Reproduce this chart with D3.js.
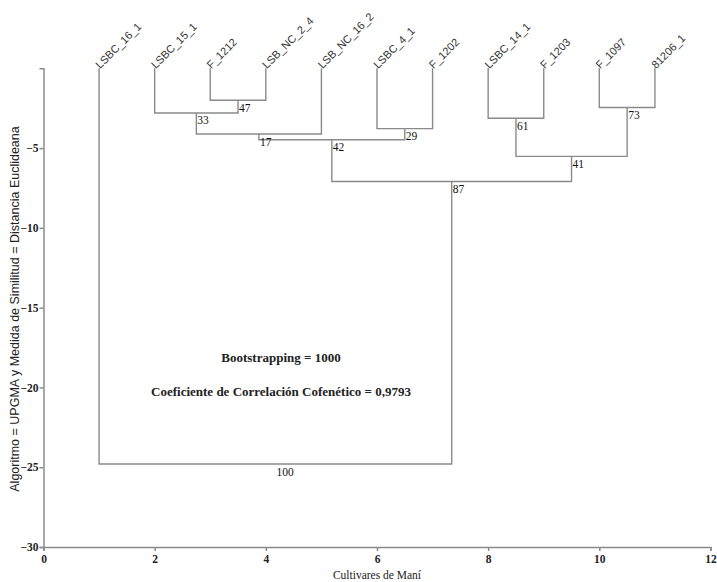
<!DOCTYPE html>
<html>
<head>
<meta charset="utf-8">
<script src="https://cdn.jsdelivr.net/npm/d3@7"></script>
<style>
  body { margin: 0; background: #fff; }
</style>
</head>
<body>
<script>
// hojas del dendrograma (posicion x = indice + 1)
const leaves = ["LSBC_16_1", "LSBC_15_1", "F_1212", "LSB_NC_2_4", "LSB_NC_16_2",
                "LSBC_4_1", "F_1202", "LSBC_14_1", "F_1203", "F_1097", "81206_1"];

// uniones: ids 0-10 son hojas, 11+ son nodos
const mergeLeft   = [2, 1, 12, 5, 13, 7, 9, 16, 15, 0];
const mergeRight  = [3, 11, 4, 6, 14, 8, 10, 17, 18, 19];
const mergeHeight = [-2.0, -2.8, -4.12, -3.78, -4.48, -3.13, -2.46, -5.52, -7.09, -24.8];
const bootstrap   = [47, 33, 17, 29, 42, 61, 73, 41, 87, 100];

const xTicks = [0, 2, 4, 6, 8, 10, 12];
const yTicks = [-30, -25, -20, -15, -10, -5];

const notes = ["Bootstrapping = 1000", "Coeficiente de Correlación Cofenético = 0,9793"];

const W = 717, H = 582;
const svg = d3.select("body").append("svg").attr("width", W).attr("height", H);

const x = d3.scaleLinear().domain([0, 12]).range([43.5, 710.5]);
const y = d3.scaleLinear().domain([-30, 0]).range([547, 68.3]);

const lineColor = "#8a8a8a";

// posiciones de nodos
const nodes = leaves.map((name, i) => ({ x: i + 1, h: 0, name: name }));
mergeLeft.forEach((l, i) => {
    const r = mergeRight[i];
    nodes.push({ x: (nodes[l].x + nodes[r].x) / 2, h: mergeHeight[i], l: l, r: r, b: bootstrap[i] });
});

// ejes
const xAxis = svg.append("g")
    .attr("transform", "translate(0," + y(-30) + ")")
    .call(d3.axisBottom(x).tickValues(xTicks).tickSize(4).tickPadding(4));
const yAxis = svg.append("g")
    .attr("transform", "translate(" + x(0) + ",0)")
    .call(d3.axisLeft(y).tickValues(yTicks).tickSize(4).tickPadding(1));

[xAxis, yAxis].forEach(a => {
    a.selectAll("path, line").attr("stroke", lineColor).attr("stroke-width", 1.5);
    a.selectAll("text")
        .attr("font-family", "'Liberation Serif', 'Times New Roman', serif")
        .attr("font-weight", "bold")
        .attr("font-size", 11.5)
        .attr("fill", "#222");
});

// lineas del dendrograma
const g = svg.append("g")
    .attr("fill", "none")
    .attr("stroke", lineColor)
    .attr("stroke-width", 1.4);

nodes.forEach(n => {
    if (n.l === undefined) return;
    const a = nodes[n.l], b = nodes[n.r];
    g.append("path")
        .attr("d", "M" + x(a.x) + "," + y(a.h) + "V" + y(n.h) + "H" + x(b.x) + "V" + y(b.h));
});

// valores bootstrap
svg.append("g").selectAll("text")
    .data(nodes.filter(n => n.b !== undefined))
    .join("text")
    .attr("x", d => x(d.x) + 1)
    .attr("y", d => y(d.h) + 11.5)
    .attr("font-family", "'Liberation Serif', 'Times New Roman', serif")
    .attr("font-size", 11.5)
    .attr("fill", "#111")
    .text(d => d.b);

// nombres de cultivares
svg.append("g").selectAll("text")
    .data(nodes.slice(0, leaves.length))
    .join("text")
    .attr("transform", d => "translate(" + (x(d.x) + 1) + "," + (y(0) + 1) + ") rotate(-45)")
    .attr("font-family", "'Liberation Sans', Arial, sans-serif")
    .attr("font-size", 11)
    .attr("fill", "#333")
    .text(d => d.name);

// anotaciones
svg.append("g").selectAll("text")
    .data(notes)
    .join("text")
    .attr("x", 281)
    .attr("y", (d, i) => 362 + i * 34)
    .attr("text-anchor", "middle")
    .attr("font-family", "'Liberation Serif', 'Times New Roman', serif")
    .attr("font-weight", "bold")
    .attr("font-size", 13)
    .attr("fill", "#222")
    .text(d => d);

// titulos
svg.append("text")
    .attr("x", x(6))
    .attr("y", 579)
    .attr("text-anchor", "middle")
    .attr("font-family", "'Liberation Serif', 'Times New Roman', serif")
    .attr("font-size", 11.5)
    .attr("fill", "#222")
    .text("Cultivares de Maní");

svg.append("text")
    .attr("transform", "translate(19,309) rotate(-90)")
    .attr("text-anchor", "middle")
    .attr("font-family", "'Liberation Sans', Arial, sans-serif")
    .attr("font-size", 12.5)
    .attr("fill", "#222")
    .text("Algoritmo = UPGMA y Medida de Similitud = Distancia Euclideana");
</script>
</body>
</html>
